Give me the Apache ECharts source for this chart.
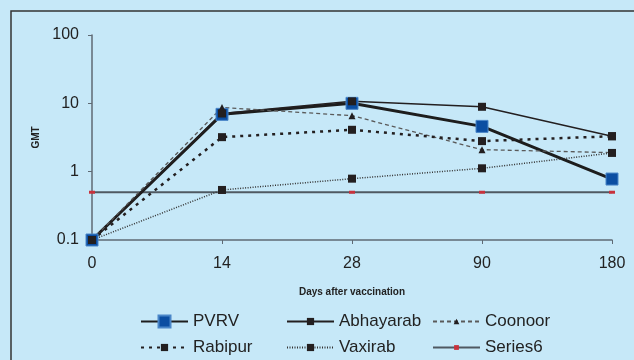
<!DOCTYPE html>
<html>
<head>
<meta charset="utf-8">
<script src="https://cdn.jsdelivr.net/npm/echarts@6/dist/echarts.min.js"></script>
<style>
html,body{margin:0;padding:0;background:#C6E8F8;}
#chart{width:634px;height:360px;}
</style>
</head>
<body>
<div id="chart"></div>
<script>
var days = ['0', '14', '28', '90', '180'];
var yTicks = [0.1, 1, 10, 100];
var pvrv = [0.1, 6.9, 10, 4.6, 0.78];
var abhayarab = [0.1, 7.1, 10.7, 8.9, 3.3];
var coonoor = [0.1, 8.7, 6.6, 2.1, 1.9];
var rabipur = [0.1, 3.2, 4.1, 2.8, 3.3];
var vaxirab = [0.1, 0.54, 0.79, 1.12, 1.88];
var series6 = [0.5, 0.5, 0.5, 0.5, 0.5];
var seriesNames = ['PVRV', 'Abhayarab', 'Coonoor', 'Rabipur', 'Vaxirab', 'Series6'];

var FONT = '"Liberation Sans", Arial, sans-serif';
var chart = echarts.init(document.getElementById('chart'), null, {renderer: 'canvas'});

var legendPos = [
  [140, 313, 15], [286, 313, 9], [432, 313, 7],
  [140, 339, 9], [286, 339, 9], [432, 339, 6]
];
var legends = seriesNames.map(function (n, i) {
  return {
    data: [n],
    left: legendPos[i][0],
    top: legendPos[i][1],
    padding: 0,
    itemWidth: 47,
    itemHeight: legendPos[i][2],
    itemGap: 0,
    selectedMode: false,
    textStyle: {fontSize: 17, color: '#222', fontFamily: FONT, padding: [0, 0, 0, 0]}
  };
});

var option = {
  animation: false,
  backgroundColor: '#C6E8F8',
  graphic: [{
    type: 'rect',
    shape: {x: 11, y: 11, width: 700, height: 500},
    style: {fill: 'none', stroke: '#333', lineWidth: 1.5},
    silent: true
  }],
  legend: legends,
  grid: {left: 92, right: 22, top: 35, bottom: 120, containLabel: false},
  xAxis: {
    type: 'category',
    data: days,
    boundaryGap: false,
    name: 'Days after vaccination',
    nameLocation: 'middle',
    nameGap: 47,
    nameTextStyle: {fontSize: 10, fontWeight: 'bold', color: '#222', fontFamily: FONT},
    axisLine: {lineStyle: {color: '#5f6a74', width: 1.5}},
    axisTick: {alignWithLabel: true, length: 4, lineStyle: {color: '#5f6a74'}},
    axisLabel: {fontSize: 16, color: '#222', fontFamily: FONT, margin: 16},
    splitLine: {show: false}
  },
  yAxis: {
    type: 'log',
    logBase: 10,
    min: 0.1,
    max: 100,
    name: 'GMT',
    nameLocation: 'middle',
    nameRotate: 90,
    nameGap: 46,
    nameTextStyle: {fontSize: 10, fontWeight: 'bold', color: '#222', fontFamily: FONT},
    axisLine: {show: true, lineStyle: {color: '#5f6a74', width: 1.5}},
    axisTick: {show: true, length: 4, lineStyle: {color: '#5f6a74'}},
    axisLabel: {
      fontSize: 16, color: '#222', fontFamily: FONT, margin: 13,
      formatter: function (v) {
        var best = yTicks.reduce(function (a, b) { return Math.abs(Math.log10(b) - Math.log10(v)) < Math.abs(Math.log10(a) - Math.log10(v)) ? b : a; });
        return String(best);
      }
    },
    splitLine: {show: false}
  },
  series: [
    {
      name: 'PVRV', type: 'line', data: pvrv,
      symbol: 'rect', symbolSize: 12,
      itemStyle: {color: '#0B4EA2', borderColor: '#4a86c8', borderWidth: 1},
      lineStyle: {color: '#1d1d1d', width: 3}
    },
    {
      name: 'Abhayarab', type: 'line', data: abhayarab,
      symbol: 'rect', symbolSize: 8,
      itemStyle: {color: '#231f20'},
      lineStyle: {color: '#231f20', width: 1.5}
    },
    {
      name: 'Coonoor', type: 'line', data: coonoor,
      symbol: 'triangle', symbolSize: 7,
      itemStyle: {color: '#231f20'},
      lineStyle: {color: '#5a5a5a', width: 1.3, type: [4, 3]}
    },
    {
      name: 'Rabipur', type: 'line', data: rabipur,
      symbol: 'rect', symbolSize: 8,
      itemStyle: {color: '#231f20'},
      lineStyle: {color: '#231f20', width: 2.5, type: [3, 5]}
    },
    {
      name: 'Vaxirab', type: 'line', data: vaxirab,
      symbol: 'rect', symbolSize: 8,
      itemStyle: {color: '#231f20'},
      lineStyle: {color: '#333', width: 1.5, type: [1, 1.5]}
    },
    {
      name: 'Series6', type: 'line', data: series6, z: 1,
      symbol: 'rect', symbolSize: [6, 3],
      itemStyle: {color: '#c8323c'},
      lineStyle: {color: '#4f5962', width: 2}
    }
  ]
};
chart.setOption(option);
</script>
</body>
</html>
